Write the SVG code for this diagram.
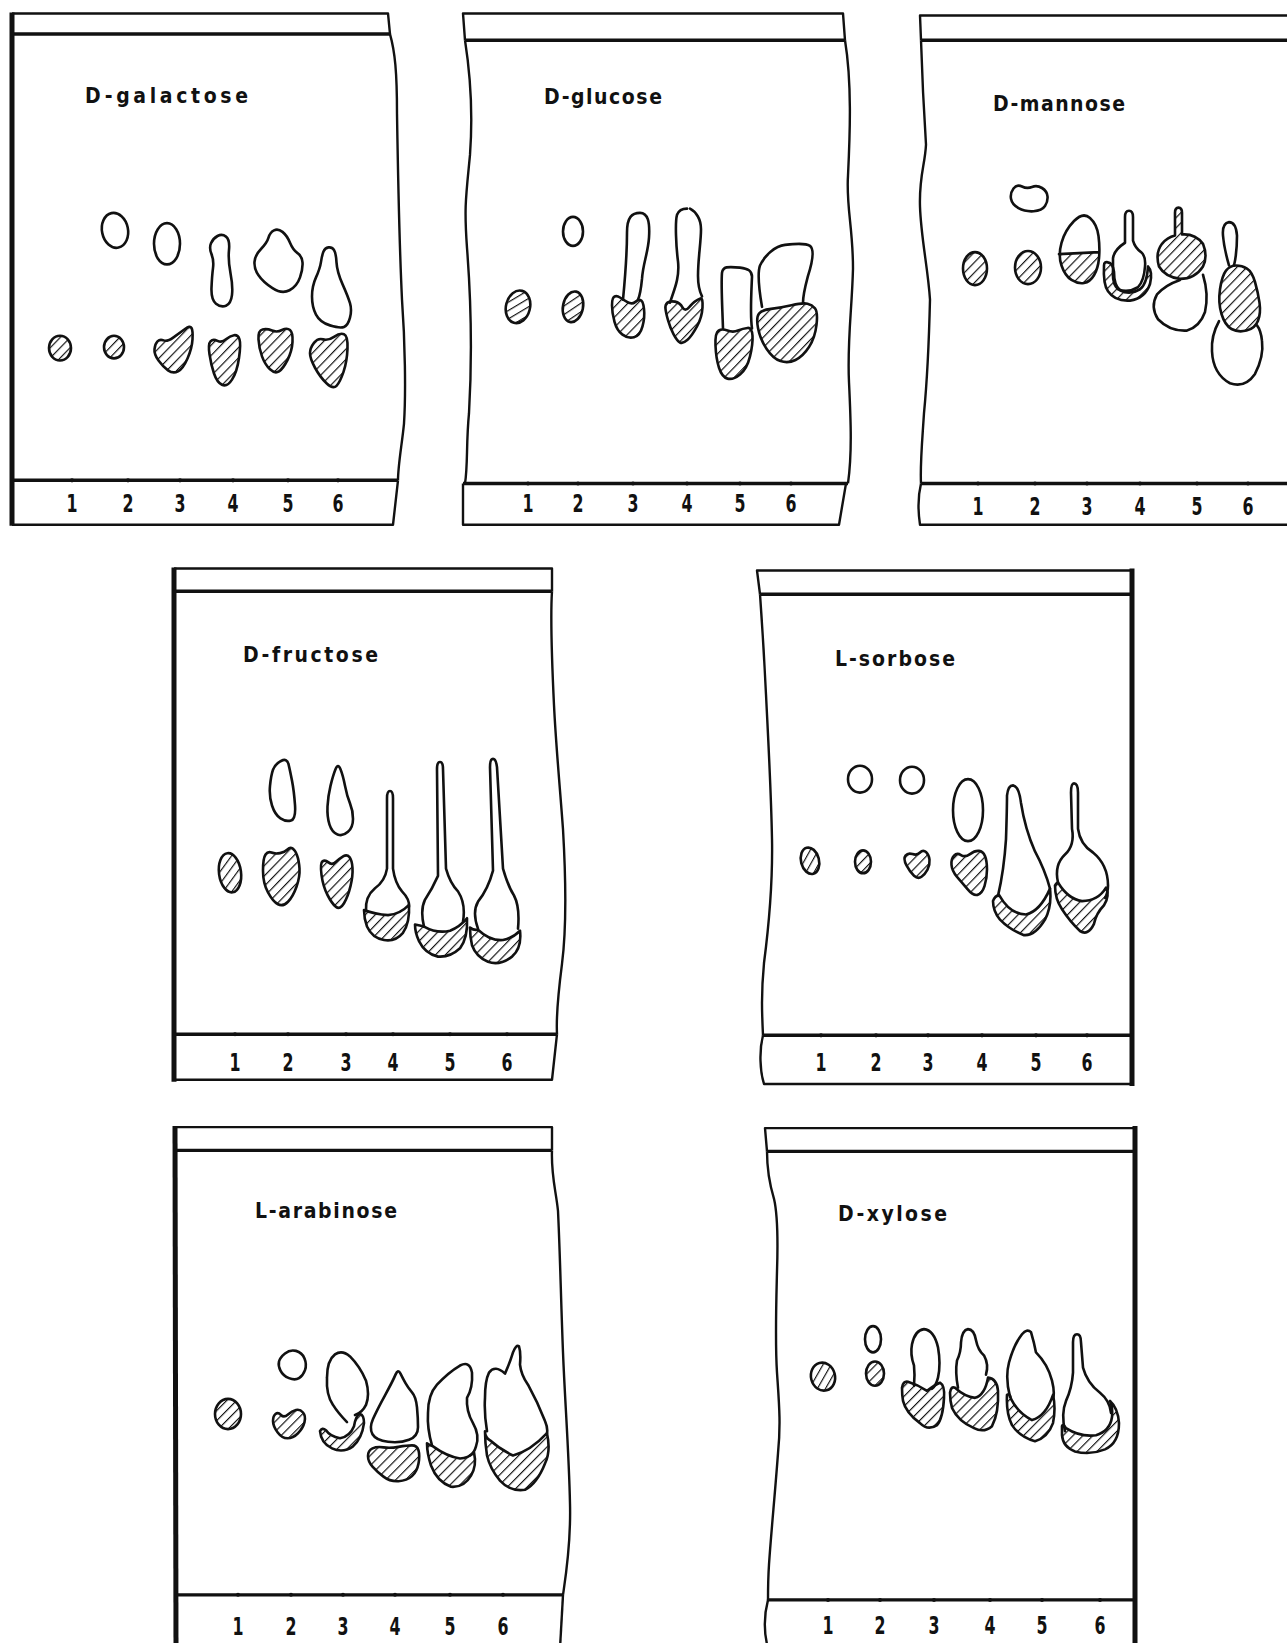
<svg xmlns="http://www.w3.org/2000/svg" width="1287" height="1643" viewBox="0 0 1287 1643">
<style>
.o{fill:none;stroke:#111;stroke-width:2.6;stroke-linejoin:round;stroke-linecap:round}
.h{fill:url(#hatch);stroke:#111;stroke-width:2.6;stroke-linejoin:round}
.hf{fill:url(#hatch);stroke:none}
.f{fill:none;stroke:#111;stroke-width:2.4;stroke-linejoin:round}
.fb{fill:none;stroke:#111;stroke-width:3.4}
.fk{fill:none;stroke:#111;stroke-width:5}
.d{fill:#111}
.lbl{font-family:"Liberation Sans Narrow","DejaVu Sans Condensed","Liberation Sans",sans-serif;font-size:21px;font-weight:bold;fill:#111}
.num{font-family:"Liberation Sans Narrow","DejaVu Sans Condensed","Liberation Sans",sans-serif;font-size:24px;font-weight:bold;fill:#111;text-anchor:middle}
</style>
<defs>
<pattern id="hatch" patternUnits="userSpaceOnUse" width="7" height="7" patternTransform="rotate(45)">
<line x1="0" y1="-1" x2="0" y2="8" stroke="#111" stroke-width="2.3"/>
</pattern>
<clipPath id="cm3"><rect x="1050" y="245" width="60" height="40"/></clipPath>
</defs>
<rect width="1287" height="1643" fill="#fff"/>

<g id="panel-galactose" transform="matrix(1,0,0,1.033,0,0)">
<path class="f" d="M12,13 L388,13 L390,33"/>
<path class="fb" d="M12,33 L390,33"/>
<path class="fk" d="M12,12 L12,509"/>
<path class="f" d="M390,33 C395,50 397,70 397,110 C398,170 399,230 402,290 C405,330 406,380 404,410 C402,430 398,450 398,465"/>
<path class="fb" d="M12,465 L398,465"/>
<path class="f" d="M398,465 L393,508 L12,508"/>
<g class="d"><circle cx="72" cy="465" r="2"/><circle cx="128" cy="465" r="2"/><circle cx="180" cy="465" r="2"/><circle cx="233" cy="465" r="2"/><circle cx="288" cy="465" r="2"/><circle cx="338" cy="465" r="2"/></g>
<text class="lbl" x="85" y="100" textLength="163" lengthAdjust="spacing">D-galactose</text>
<text class="num" x="72" y="496" textLength="11" lengthAdjust="spacingAndGlyphs">1</text><text class="num" x="128" y="496" textLength="11" lengthAdjust="spacingAndGlyphs">2</text><text class="num" x="180" y="496" textLength="11" lengthAdjust="spacingAndGlyphs">3</text><text class="num" x="233" y="496" textLength="11" lengthAdjust="spacingAndGlyphs">4</text><text class="num" x="288" y="496" textLength="11" lengthAdjust="spacingAndGlyphs">5</text><text class="num" x="338" y="496" textLength="11" lengthAdjust="spacingAndGlyphs">6</text>
<ellipse class="h" cx="60" cy="337" rx="11" ry="12"/>
<ellipse class="h" cx="114" cy="336" rx="10" ry="11"/>
<ellipse class="o" cx="115" cy="223" rx="13" ry="17" transform="rotate(-12 115 223)"/>
<ellipse class="o" cx="167" cy="236" rx="13" ry="20"/>
<path class="h" d="M154.5,338 Q155,333 157.5,330.5 Q160,328 163.5,329.5 Q167,331 173.5,326.5 Q180,322 185,318.5 Q190,315 191.5,317.5 Q193,320 192.5,328.5 Q192,337 187.5,347 Q183,357 178,359.5 Q173,362 168,358.5 Q163,355 158.5,349 Q154,343 154.5,338 Z"/>
<path class="o" d="M211,235.5 Q213,231 217.5,228.5 Q222,226 226,229 Q230,232 229,242 Q228,252 230.5,264.5 Q233,277 232,285.5 Q231,294 226,296 Q221,298 216,294 Q211,290 211.5,278.5 Q212,267 213,259.5 Q214,252 211.5,246 Q209,240 211,235.5 Z"/>
<path class="h" d="M209.5,343 Q208,333 210.5,330.5 Q213,328 217.5,330 Q222,332 226,328.5 Q230,325 234,324.5 Q238,324 239.5,328.5 Q241,333 239,346.5 Q237,360 232,367.5 Q227,375 222,372.5 Q217,370 214,361.5 Q211,353 209.5,343 Z"/>
<path class="o" d="M254.5,253.5 Q255,247 261,241 Q267,235 268.5,230 Q270,225 274,223 Q278,221 282.5,224.5 Q287,228 290,235 Q293,242 297.5,245 Q302,248 302.5,254 Q303,260 300,268.5 Q297,277 289.5,281 Q282,285 272.5,279 Q263,273 258.5,266.5 Q254,260 254.5,253.5 Z"/>
<path class="h" d="M258.5,328.5 Q258,320 262.5,319 Q267,318 272,320 Q277,322 282,319.5 Q287,317 290,319.5 Q293,322 292.5,331 Q292,340 287.5,348.5 Q283,357 279,359.5 Q275,362 270,357.5 Q265,353 262,345 Q259,337 258.5,328.5 Z"/>
<path class="o" d="M321,253.5 Q322,247 323.5,243.5 Q325,240 328.5,239.5 Q332,239 334,242 Q336,245 336.5,254 Q337,263 342.5,275 Q348,287 350,293.5 Q352,300 350,307.5 Q348,315 344,316.5 Q340,318 330,315 Q320,312 316,304.5 Q312,297 312,287 Q312,277 316,268.5 Q320,260 321,253.5 Z"/>
<path class="h" d="M310,342 Q310,337 314,332 Q318,327 323,328.5 Q328,330 334,326 Q340,322 344,323.5 Q348,325 347.5,337.5 Q347,350 343.5,360 Q340,370 336.5,373.5 Q333,377 326.5,371 Q320,365 315,356 Q310,347 310,342 Z"/>
</g>

<g id="panel-glucose" transform="matrix(1,0,0,1.033,0,0)">
<path class="f" d="M465,39 L463,13 L843,13 L845,39"/>
<path class="fb" d="M465,39 L845,39"/>
<path class="f" d="M465,39 C470,70 473,110 470,150 C466,190 464,200 467,240 C471,290 472,350 469,400 C466,430 468,450 465,468"/>
<path class="f" d="M845,39 C852,80 850,130 848,170 C846,200 853,220 853,260 C852,300 847,330 849,370 C851,410 852,440 848,468"/>
<path class="fb" d="M463,468 L848,468"/>
<path class="f" d="M463,468 L463,508 L839,508 L846,468"/>
<g class="d"><circle cx="528" cy="468" r="2"/><circle cx="578" cy="468" r="2"/><circle cx="633" cy="468" r="2"/><circle cx="687" cy="468" r="2"/><circle cx="740" cy="468" r="2"/><circle cx="791" cy="468" r="2"/></g>
<text class="lbl" x="544" y="101" textLength="118" lengthAdjust="spacing">D-glucose</text>
<text class="num" x="528" y="496" textLength="11" lengthAdjust="spacingAndGlyphs">1</text><text class="num" x="578" y="496" textLength="11" lengthAdjust="spacingAndGlyphs">2</text><text class="num" x="633" y="496" textLength="11" lengthAdjust="spacingAndGlyphs">3</text><text class="num" x="687" y="496" textLength="11" lengthAdjust="spacingAndGlyphs">4</text><text class="num" x="740" y="496" textLength="11" lengthAdjust="spacingAndGlyphs">5</text><text class="num" x="791" y="496" textLength="11" lengthAdjust="spacingAndGlyphs">6</text>
<ellipse class="h" cx="518" cy="297" rx="12" ry="16" transform="rotate(15 518 297)"/>
<ellipse class="o" cx="573" cy="224" rx="10" ry="14"/>
<ellipse class="h" cx="573" cy="297" rx="10" ry="15" transform="rotate(12 573 297)"/>
<path class="o" d="M623,290 C625,270 627,250 627,225 C627,210 632,206 640,206 C648,206 650,215 649,230 C648,245 643,255 642,270 C641,280 640,286 638,290"/>
<path class="h" d="M612,295.5 Q612,288 614.5,287 Q617,286 620,288 Q623,290 627.5,292.5 Q632,295 635,292.5 Q638,290 640.5,290.5 Q643,291 644,299 Q645,307 642.5,316 Q640,325 634,326.5 Q628,328 622.5,324 Q617,320 614.5,311.5 Q612,303 612,295.5 Z"/>
<path class="o" d="M670,293 C673,283 680,270 678,253 C676,238 675,215 677,208 C679,203 684,202 687,202 M690,202 C696,205 701,212 701,222 C701,235 698,250 698,267 C698,278 700,283 702,287"/>
<path class="h" d="M665.5,299 Q665,295 667.5,293 Q670,291 675,292 Q680,293 682.5,297.5 Q685,302 689,297.5 Q693,293 695.5,291.5 Q698,290 700.5,289 Q703,288 702.5,297.5 Q702,307 697,316 Q692,325 687.5,329 Q683,333 680,331.5 Q677,330 673.5,323.5 Q670,317 668,310 Q666,303 665.5,299 Z"/>
<path class="o" d="M723,318 C722,290 721,275 722,264 C723,258 727,258 740,259 C748,260 752,262 752,268 C751,290 750,305 752,318"/>
<path class="h" d="M715.5,334.5 Q715,322 718.5,320 Q722,318 727.5,320 Q733,322 738,320 Q743,318 747.5,317.5 Q752,317 752.5,325 Q753,333 750,345 Q747,357 740,362.5 Q733,368 727.5,366.5 Q722,365 719,356 Q716,347 715.5,334.5 Z"/>
<path class="o" d="M762,297 C759,280 757,265 760,257 C765,247 775,238 785,237 C795,236 805,235 810,238 C815,242 812,255 808,267 C805,278 803,285 803,293"/>
<path class="h" d="M758,317.5 Q756,307 759,303.5 Q762,300 771,299 Q780,298 791.5,295.5 Q803,293 807.5,294 Q812,295 815,298.5 Q818,302 816.5,314.5 Q815,327 809,336 Q803,345 795.5,348.5 Q788,352 780.5,349.5 Q773,347 766.5,337.5 Q760,328 758,317.5 Z"/>
</g>

<g id="panel-mannose" transform="matrix(1,0,0,1.033,0,0)">
<path class="f" d="M921,39 L920,15 L1290,15"/>
<path class="fb" d="M921,39 L1290,39"/>
<path class="f" d="M921,39 C922,70 924,110 926,140 C925,160 919,170 920,200 C921,230 928,260 930,290 C929,330 927,370 924,400 C922,430 920,450 921,468"/>
<path class="fb" d="M921,468 L1290,468"/>
<path class="f" d="M921,468 C918,480 918,495 920,508 L1290,508"/>
<g class="d"><circle cx="978" cy="468" r="2"/><circle cx="1035" cy="468" r="2"/><circle cx="1087" cy="468" r="2"/><circle cx="1140" cy="468" r="2"/><circle cx="1197" cy="468" r="2"/><circle cx="1248" cy="468" r="2"/></g>
<text class="lbl" x="993" y="107" textLength="132" lengthAdjust="spacing">D-mannose</text>
<text class="num" x="978" y="499" textLength="11" lengthAdjust="spacingAndGlyphs">1</text><text class="num" x="1035" y="499" textLength="11" lengthAdjust="spacingAndGlyphs">2</text><text class="num" x="1087" y="499" textLength="11" lengthAdjust="spacingAndGlyphs">3</text><text class="num" x="1140" y="499" textLength="11" lengthAdjust="spacingAndGlyphs">4</text><text class="num" x="1197" y="499" textLength="11" lengthAdjust="spacingAndGlyphs">5</text><text class="num" x="1248" y="499" textLength="11" lengthAdjust="spacingAndGlyphs">6</text>
<ellipse class="h" cx="975" cy="260" rx="12" ry="16"/>
<ellipse class="h" cx="1028" cy="259" rx="13" ry="16"/>
<path class="o" d="M1011,192.5 Q1010,187 1013.5,182.5 Q1017,178 1022,180.5 Q1027,183 1032,181 Q1037,179 1042,182 Q1047,185 1047.5,190 Q1048,195 1045,199.5 Q1042,204 1033.5,204.5 Q1025,205 1018.5,201.5 Q1012,198 1011,192.5 Z"/>
<path class="hf" clip-path="url(#cm3)" d="M1074,214 Q1083,205 1090,211 Q1097,217 1098.5,228.5 Q1100,240 1099,250 Q1098,260 1094,266.5 Q1090,273 1084,274 Q1078,275 1071.5,271 Q1065,267 1061.5,257 Q1058,247 1061.5,235 Q1065,223 1074,214 Z"/>
<path class="o" d="M1074,214 Q1083,205 1090,211 Q1097,217 1098.5,228.5 Q1100,240 1099,250 Q1098,260 1094,266.5 Q1090,273 1084,274 Q1078,275 1071.5,271 Q1065,267 1061.5,257 Q1058,247 1061.5,235 Q1065,223 1074,214 Z M1059,246 L1099,244"/>
<path class="o" d="M1125,235 L1125,210 Q1125,204 1129,204 Q1133,204 1133,210 L1133,233 Q1135,240 1141,244 Q1146,248 1145,258 Q1144,272 1138,278 Q1128,284 1118,280 Q1112,275 1113,262 L1113,250 Q1114,242 1125,235 Z"/>
<path class="h" d="M1104,257 Q1103,275 1108,282 Q1115,292 1130,291 Q1145,289 1150,275 Q1153,263 1148,258 Q1147,275 1140,280 Q1130,286 1120,281 Q1114,276 1114,263 Q1113,255 1108,254 Q1104,253 1104,257 Z"/>
<path class="o" d="M1180,271 Q1165,276 1157,285 Q1150,297 1158,309 Q1170,321 1187,320 Q1200,316 1205,302 Q1209,285 1203,266"/>
<path class="h" d="M1175,228 L1175,206 Q1175,201 1178.5,201 Q1182,201 1182,206 L1182,227 Q1195,226 1203,236 Q1208,248 1203,258 Q1195,270 1180,270 Q1165,268 1159,258 Q1155,245 1162,236 Q1167,230 1175,228 Z"/>
<path class="o" d="M1229,257 Q1224,240 1223,228 Q1222,216 1229,215 Q1236,215 1237,228 Q1237,245 1234,257"/>
<path class="o" d="M1219,311 Q1211,325 1212,340 Q1213,362 1230,371 Q1245,376 1255,362 Q1264,345 1262,330 Q1261,320 1257,315"/>
<path class="h" d="M1220,280 Q1222,267 1226,262 Q1230,257 1236,257 Q1242,257 1247,260 Q1252,263 1255,273 Q1258,283 1259.5,293 Q1261,303 1258,310.5 Q1255,318 1246.5,320 Q1238,322 1231.5,318.5 Q1225,315 1221.5,304 Q1218,293 1220,280 Z"/>
</g>

<g id="panel-fructose" transform="matrix(1,0,0,1.035,0,-19.425)">
<path class="f" d="M174,568 L552,568 L552,590"/>
<path class="fb" d="M174,590 L552,590"/>
<path class="fk" d="M174,567 L174,1064"/>
<path class="f" d="M552,590 C550,620 552,660 554,700 C556,740 560,780 563,820 C566,870 566,920 562,950 C558,980 556,1000 557,1018"/>
<path class="fb" d="M174,1018 L557,1018"/>
<path class="f" d="M557,1018 L552,1062 L174,1062"/>
<g class="d"><circle cx="235" cy="1018" r="2"/><circle cx="288" cy="1018" r="2"/><circle cx="346" cy="1018" r="2"/><circle cx="393" cy="1018" r="2"/><circle cx="450" cy="1018" r="2"/><circle cx="507" cy="1018" r="2"/></g>
<text class="lbl" x="243" y="658" textLength="135" lengthAdjust="spacing">D-fructose</text>
<text class="num" x="235" y="1054" textLength="11" lengthAdjust="spacingAndGlyphs">1</text><text class="num" x="288" y="1054" textLength="11" lengthAdjust="spacingAndGlyphs">2</text><text class="num" x="346" y="1054" textLength="11" lengthAdjust="spacingAndGlyphs">3</text><text class="num" x="393" y="1054" textLength="11" lengthAdjust="spacingAndGlyphs">4</text><text class="num" x="450" y="1054" textLength="11" lengthAdjust="spacingAndGlyphs">5</text><text class="num" x="507" y="1054" textLength="11" lengthAdjust="spacingAndGlyphs">6</text>
<ellipse class="h" cx="230" cy="862" rx="11" ry="19" transform="rotate(-8 230 862)"/>
<path class="o" d="M273,762.5 Q275,757 281,754 Q287,751 288.5,757 Q290,763 292,773 Q294,783 295,796.5 Q296,810 291,811.5 Q286,813 280.5,809.5 Q275,806 272,797 Q269,788 270,778 Q271,768 273,762.5 Z"/>
<path class="h" d="M263,860 Q263,848 265.5,844.5 Q268,841 271.5,842.5 Q275,844 280,843 Q285,842 287.5,839.5 Q290,837 292.5,838.5 Q295,840 297,845 Q299,850 299.5,858 Q300,866 296.5,875.5 Q293,885 288,890 Q283,895 278,892.5 Q273,890 268,881 Q263,872 263,860 Z"/>
<path class="o" d="M335.5,762 Q338,756 340.5,762 Q343,768 345,778 Q347,788 350,795 Q353,802 353,810 Q353,818 348,822.5 Q343,827 337.5,825 Q332,823 329.5,815.5 Q327,808 327.5,798 Q328,788 330.5,778 Q333,768 335.5,762 Z"/>
<path class="h" d="M321.5,864 Q320,853 322.5,851 Q325,849 328.5,852 Q332,855 336,851.5 Q340,848 343.5,846 Q347,844 349.5,847 Q352,850 352.5,857.5 Q353,865 350.5,875 Q348,885 344,891.5 Q340,898 336,895 Q332,892 327.5,883.5 Q323,875 321.5,864 Z"/>
<path class="o" d="M366,899 Q365,885 375,877 Q385,870 387,858 L387,790 Q387,783 390,783 Q393,783 393,790 L393,858 Q395,872 402,880 Q410,888 409,895"/>
<path class="h" d="M364,898 Q375,902 388,903 Q400,902 409,893 Q410,910 403,920 Q395,929 384,927 Q372,925 367,914 Q364,906 364,898 Z"/>
<path class="o" d="M424,914 Q420,898 425,888 Q432,878 438,865 L437,762 Q437,755 440,755 Q443,755 443,762 L446,858 Q450,872 458,880 Q466,892 463,909"/>
<path class="h" d="M415,912 Q420,913 424,914 Q437,921 450,918 Q460,914 467,906 Q468,925 460,935 Q450,944 438,943 Q425,940 419,928 Q415,920 415,912 Z"/>
<path class="o" d="M478,916 Q472,900 478,890 Q488,878 493,860 L490,760 Q490,752 493,752 Q496,752 497,760 L503,858 Q508,875 514,884 Q520,895 518,916"/>
<path class="h" d="M470,915 Q474,918 478,917 Q490,928 503,927 Q513,925 520,918 Q522,935 512,943 Q500,952 488,948 Q476,943 472,932 Q470,924 470,915 Z"/>
</g>

<g id="panel-sorbose" transform="matrix(1,0,0,1.033,0,-18.315)">
<path class="f" d="M760,593 L757,570 L1132,570"/>
<path class="fb" d="M760,593 L1132,593"/>
<path class="fk" d="M1132,568 L1132,1069"/>
<path class="f" d="M760,593 C762,620 764,650 766,690 C768,730 771,780 772,830 C773,880 768,920 764,950 C761,980 762,1000 763,1020"/>
<path class="fb" d="M763,1020 L1132,1020"/>
<path class="f" d="M763,1020 C759,1035 760,1055 764,1067 L1132,1067"/>
<g class="d"><circle cx="821" cy="1020" r="2"/><circle cx="876" cy="1020" r="2"/><circle cx="928" cy="1020" r="2"/><circle cx="982" cy="1020" r="2"/><circle cx="1036" cy="1020" r="2"/><circle cx="1087" cy="1020" r="2"/></g>
<text class="lbl" x="835" y="662" textLength="120" lengthAdjust="spacing">L-sorbose</text>
<text class="num" x="821" y="1055" textLength="11" lengthAdjust="spacingAndGlyphs">1</text><text class="num" x="876" y="1055" textLength="11" lengthAdjust="spacingAndGlyphs">2</text><text class="num" x="928" y="1055" textLength="11" lengthAdjust="spacingAndGlyphs">3</text><text class="num" x="982" y="1055" textLength="11" lengthAdjust="spacingAndGlyphs">4</text><text class="num" x="1036" y="1055" textLength="11" lengthAdjust="spacingAndGlyphs">5</text><text class="num" x="1087" y="1055" textLength="11" lengthAdjust="spacingAndGlyphs">6</text>
<ellipse class="h" cx="810" cy="851" rx="9" ry="13" transform="rotate(-15 810 851)"/>
<ellipse class="h" cx="863" cy="852" rx="8" ry="11"/>
<ellipse class="o" cx="860" cy="772" rx="12" ry="13"/>
<ellipse class="o" cx="912" cy="773" rx="12" ry="13"/>
<path class="h" d="M906.5,855.5 Q903,849 905.5,846 Q908,843 912.5,844.5 Q917,846 920,843 Q923,840 926,842.5 Q929,845 929.5,850 Q930,855 927.5,859.5 Q925,864 921.5,866.5 Q918,869 914,865.5 Q910,862 906.5,855.5 Z"/>
<ellipse class="o" cx="968" cy="802" rx="15" ry="30"/>
<path class="h" d="M951.5,855 Q951,849 954,846 Q957,843 961,845.5 Q965,848 970,844.5 Q975,841 979,841.5 Q983,842 985,846.5 Q987,851 987,859.5 Q987,868 984.5,875.5 Q982,883 977.5,884 Q973,885 967.5,878.5 Q962,872 957,866.5 Q952,861 951.5,855 Z"/>
<path class="o" d="M998,885 Q1004,860 1006,830 Q1007,800 1007,788 Q1008,778 1013,778 Q1019,779 1021,795 Q1025,820 1035,842 Q1045,860 1050,878"/>
<path class="h" d="M993,890 Q995,885 999,884 Q1010,903 1026,903 Q1040,900 1050,878 Q1052,895 1045,908 Q1035,924 1024,923 Q1010,918 1000,908 Q993,900 993,890 Z"/>
<path class="o" d="M1058,872 Q1054,855 1065,845 Q1075,836 1072,820 L1071,785 Q1071,776 1074,776 Q1078,776 1078,785 L1078,820 Q1080,835 1093,843 Q1108,855 1108,875 Q1108,882 1105,887"/>
<path class="h" d="M1055,875 Q1057,872 1058,872 Q1068,888 1082,890 Q1098,890 1106,877 Q1110,885 1104,894 Q1096,902 1094,912 Q1088,924 1080,919 Q1070,910 1062,898 Q1055,888 1055,875 Z"/>
</g>

<g id="panel-arabinose" transform="matrix(1,0,0,1.0102,0,-11.373)">
<path class="f" d="M175,1127 L552,1127 L552,1150"/>
<path class="fb" d="M175,1150 L552,1150"/>
<path class="fk" d="M175,1126 L176,1643"/>
<path class="f" d="M552,1150 C551,1175 556,1190 558,1210 C560,1250 561,1300 563,1350 C565,1400 569,1450 570,1500 C571,1540 566,1570 563,1590"/>
<path class="fb" d="M176,1590 L563,1590"/>
<path class="f" d="M563,1590 L560,1643"/>
<g class="d"><circle cx="238" cy="1590" r="2"/><circle cx="291" cy="1590" r="2"/><circle cx="343" cy="1590" r="2"/><circle cx="395" cy="1590" r="2"/><circle cx="450" cy="1590" r="2"/><circle cx="503" cy="1590" r="2"/></g>
<text class="lbl" x="255" y="1217" textLength="142" lengthAdjust="spacing">L-arabinose</text>
<text class="num" x="238" y="1630" textLength="11" lengthAdjust="spacingAndGlyphs">1</text><text class="num" x="291" y="1630" textLength="11" lengthAdjust="spacingAndGlyphs">2</text><text class="num" x="343" y="1630" textLength="11" lengthAdjust="spacingAndGlyphs">3</text><text class="num" x="395" y="1630" textLength="11" lengthAdjust="spacingAndGlyphs">4</text><text class="num" x="450" y="1630" textLength="11" lengthAdjust="spacingAndGlyphs">5</text><text class="num" x="503" y="1630" textLength="11" lengthAdjust="spacingAndGlyphs">6</text>
<ellipse class="h" cx="228" cy="1411" rx="13" ry="15"/>
<path class="o" d="M279,1359 Q280,1355 285,1351 Q290,1347 296,1348.5 Q302,1350 304.5,1356 Q307,1362 305,1367.5 Q303,1373 299,1375.5 Q295,1378 289,1375.5 Q283,1373 280.5,1368 Q278,1363 279,1359 Z"/>
<path class="h" d="M273,1418 Q273,1413 275.5,1411 Q278,1409 281,1412 Q284,1415 288,1411.5 Q292,1408 296,1407 Q300,1406 303,1409.5 Q306,1413 304.5,1419 Q303,1425 298,1430 Q293,1435 287.5,1435 Q282,1435 277.5,1429 Q273,1423 273,1418 Z"/>
<path class="o" d="M347,1419 Q338,1410 333,1402 Q326,1392 327,1375 Q327,1358 335,1352 Q342,1347 350,1354 Q360,1364 366,1378 Q370,1392 366,1402 Q362,1410 355,1412"/>
<path class="h" d="M320,1428 Q321,1440 332,1445 Q343,1450 353,1443 Q362,1435 364,1420 Q364,1412 360,1411 Q356,1412 354,1423 Q350,1433 340,1435 Q330,1433 326,1427 Q322,1424 320,1428 Z"/>
<path class="o" d="M395.5,1372 Q398,1366 400.5,1371 Q403,1376 405.5,1380.5 Q408,1385 412,1389.5 Q416,1394 417,1404.5 Q418,1415 418,1424 Q418,1433 409,1436.5 Q400,1440 388,1438.5 Q376,1437 372.5,1431 Q369,1425 373,1416 Q377,1407 385,1392.5 Q393,1378 395.5,1372 Z"/>
<path class="h" d="M368,1452.5 Q368,1447 372.5,1445 Q377,1443 383.5,1444 Q390,1445 398.5,1443.5 Q407,1442 412,1442 Q417,1442 418.5,1447 Q420,1452 418.5,1460 Q417,1468 412,1472.5 Q407,1477 398.5,1477.5 Q390,1478 383.5,1473 Q377,1468 372.5,1463 Q368,1458 368,1452.5 Z"/>
<path class="o" d="M432,1442 Q427,1425 428,1410 Q428,1392 437,1382 Q448,1370 460,1363 Q470,1358 472,1370 Q473,1385 467,1395 Q466,1408 473,1420 Q480,1432 476,1443 Q474,1450 470,1452"/>
<path class="h" d="M427,1440 Q430,1442 433,1443 Q447,1453 460,1455 Q468,1455 474,1449 Q477,1462 471,1472 Q464,1484 451,1483 Q437,1478 431,1462 Q427,1450 427,1440 Z"/>
<path class="o" d="M487,1428 Q484,1410 485,1395 Q485,1378 489,1370 Q495,1362 505,1371 Q510,1360 513,1350 Q516,1342 519,1344 Q521,1350 520,1362 Q521,1372 528,1382 Q538,1400 545,1418 Q548,1425 547,1430"/>
<path class="h" d="M485,1428 Q485,1434 490,1437 Q500,1446 513,1452 Q530,1448 547,1430 Q551,1448 545,1460 Q537,1480 525,1486 Q510,1488 500,1477 Q490,1465 487,1452 Q485,1440 485,1428 Z"/>
</g>

<g id="panel-xylose" transform="matrix(1,0,0,1.0102,0,-11.373)">
<path class="f" d="M767,1151 L765,1128 L1135,1128"/>
<path class="fb" d="M767,1151 L1135,1151"/>
<path class="fk" d="M1135,1126 L1135,1643"/>
<path class="f" d="M767,1151 C767,1170 770,1185 774,1198 C778,1215 778,1240 777,1270 C776,1310 775,1340 777,1370 C779,1400 781,1420 778,1450 C775,1490 771,1530 769,1560 C768,1575 768,1585 768,1595"/>
<path class="fb" d="M768,1595 L1135,1595"/>
<path class="f" d="M768,1595 C764,1610 764,1628 768,1643"/>
<g class="d"><circle cx="828" cy="1595" r="2"/><circle cx="880" cy="1595" r="2"/><circle cx="934" cy="1595" r="2"/><circle cx="990" cy="1595" r="2"/><circle cx="1042" cy="1595" r="2"/><circle cx="1100" cy="1595" r="2"/></g>
<text class="lbl" x="838" y="1220" textLength="109" lengthAdjust="spacing">D-xylose</text>
<text class="num" x="828" y="1629" textLength="11" lengthAdjust="spacingAndGlyphs">1</text><text class="num" x="880" y="1629" textLength="11" lengthAdjust="spacingAndGlyphs">2</text><text class="num" x="934" y="1629" textLength="11" lengthAdjust="spacingAndGlyphs">3</text><text class="num" x="990" y="1629" textLength="11" lengthAdjust="spacingAndGlyphs">4</text><text class="num" x="1042" y="1629" textLength="11" lengthAdjust="spacingAndGlyphs">5</text><text class="num" x="1100" y="1629" textLength="11" lengthAdjust="spacingAndGlyphs">6</text>
<ellipse class="h" cx="823" cy="1374" rx="12" ry="14" transform="rotate(-15 823 1374)"/>
<ellipse class="o" cx="873" cy="1337" rx="8" ry="13"/>
<ellipse class="h" cx="875" cy="1371" rx="9" ry="12"/>
<path class="o" d="M914,1383 Q915,1372 914,1363 Q910,1352 912,1342 Q915,1328 924,1327 Q934,1328 938,1345 Q941,1362 938,1375 Q936,1383 932,1386"/>
<path class="h" d="M902,1385 Q903,1378 908,1379 Q918,1382 927,1388 Q935,1382 940,1380 Q945,1383 944,1395 Q943,1415 937,1422 Q928,1428 920,1420 Q906,1410 903,1398 Q902,1392 902,1385 Z"/>
<path class="o" d="M958,1385 Q955,1370 957,1358 Q961,1350 961,1340 Q962,1328 968,1327 Q974,1327 976,1338 Q978,1348 984,1353 Q989,1362 986,1372"/>
<path class="h" d="M950,1390 Q951,1383 955,1385 Q965,1394 975,1395 Q985,1392 988,1375 Q997,1376 998,1388 Q999,1410 992,1423 Q984,1430 974,1425 Q958,1418 952,1405 Q950,1398 950,1390 Z"/>
<path class="o" d="M1010,1394 Q1005,1375 1009,1360 Q1014,1342 1022,1332 Q1027,1326 1031,1330 Q1034,1340 1036,1350 Q1048,1362 1052,1378 Q1055,1390 1053,1396"/>
<path class="h" d="M1007,1392 Q1010,1390 1011,1396 Q1018,1410 1032,1417 Q1046,1413 1053,1392 Q1056,1405 1053,1420 Q1048,1434 1035,1438 Q1020,1434 1012,1422 Q1006,1410 1007,1392 Z"/>
<path class="o" d="M1065,1428 Q1061,1410 1066,1398 Q1072,1385 1073,1370 L1073,1340 Q1073,1332 1077,1332 Q1081,1332 1081,1340 L1083,1365 Q1087,1380 1100,1390 Q1110,1398 1111,1410"/>
<path class="h" d="M1062,1423 Q1063,1420 1066,1425 Q1080,1434 1096,1432 Q1110,1428 1112,1414 Q1113,1405 1110,1398 Q1118,1405 1119,1420 Q1119,1440 1105,1446 Q1090,1452 1075,1448 Q1063,1444 1062,1432 Z"/>
</g>
</svg>
